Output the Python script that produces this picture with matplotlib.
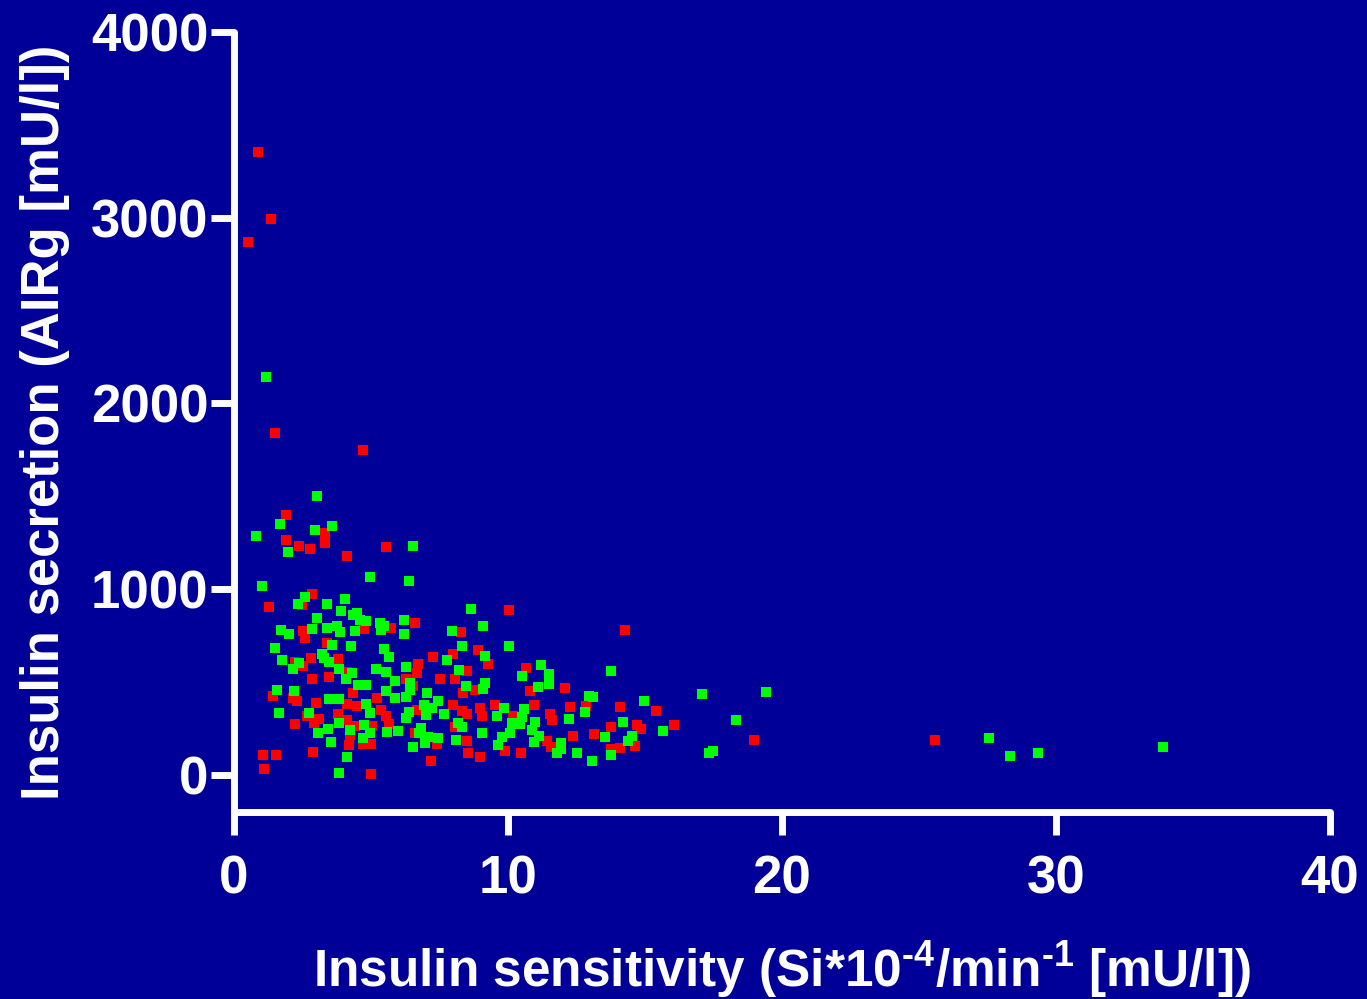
import numpy as np
import matplotlib
matplotlib.use('Agg')
import matplotlib.pyplot as plt

plt.rcParams['font.family'] = ['Liberation Sans', 'DejaVu Sans']
plt.rcParams['font.weight'] = 'bold'
plt.rcParams['mathtext.fontset'] = 'custom'
plt.rcParams['mathtext.rm'] = 'Liberation Sans:bold'
plt.rcParams['mathtext.default'] = 'rm'

# red group (Si, AIRg)
red_si = [0.89, 1.36, 0.51, 1.48, 4.71, 1.90, 1.90, 3.32, 3.31, 2.38, 2.78, 5.56, 4.14,
          2.84, 2.47, 1.27, 4.76, 2.50, 2.58, 3.38, 2.82, 3.81, 2.23, 2.53, 4.11, 2.86, 3.47,
          4.36, 1.43, 2.16, 2.31, 3.00, 4.12, 4.49, 5.22, 5.36, 5.53, 2.67, 3.11, 2.93, 3.78,
          4.12, 2.22, 4.25, 4.42, 5.04, 4.70, 5.01, 4.21, 2.89, 1.04, 1.53, 1.10, 4.99,
          6.62, 5.73, 10.03, 8.27, 8.89, 7.98, 7.28, 9.26, 6.73, 6.66, 8.49, 6.27, 6.54, 7.50,
          8.05, 8.81, 8.34, 7.99, 8.31, 8.49, 8.98, 9.04, 9.51, 10.19, 9.89, 10.47, 10.96,
          10.81, 10.65, 6.69, 5.64, 6.60, 7.39, 8.05, 8.49, 8.54, 8.99, 7.20,
          14.27, 12.08, 12.26, 12.84, 14.09, 15.40, 11.53, 11.61, 13.77, 14.69, 14.86, 16.06,
          11.42, 11.57, 12.37, 13.14, 14.64, 14.07, 13.76, 18.98, 25.58]
red_air = [3355, 2995, 2868, 1838, 1750, 1398, 1265, 1303, 1250, 1231, 1218, 1227, 1180,
           975, 915, 906, 787, 773, 739, 710, 627, 625, 605, 584, 555, 514, 528,
           442, 425, 414, 400, 387, 382, 371, 414, 351, 319, 317, 299, 279, 326,
           295, 274, 216, 261, 261, 164, 166, 158, 123, 106, 106, 31, 5,
           818, 793, 886, 771, 670, 652, 636, 598, 596, 546, 559, 514, 479, 517,
           517, 459, 442, 374, 344, 327, 360, 317, 376, 315, 128, 117, 376,
           449, 577, 351, 274, 227, 164, 256, 181, 117, 97, 74,
           782, 467, 367, 371, 365, 346, 326, 297, 259, 266, 247, 268,
           181, 148, 207, 218, 157, 144, 137, 190, 185]

# green group (Si, AIRg)
green_si = [1.17, 3.02, 1.68, 0.80, 2.97, 3.59, 1.98, 6.55,
            4.98, 1.01, 2.58, 2.32, 3.39, 4.04, 3.92, 4.33, 4.50, 4.59, 4.82, 5.31, 5.48, 5.36,
            3.04, 1.71, 2.01, 2.86, 3.41, 3.77, 3.88, 4.43, 3.59, 4.26, 1.50, 5.46, 5.65, 1.75,
            3.21, 3.30, 3.48, 2.36, 2.16, 3.84, 4.32, 4.08, 5.17, 5.56, 4.54, 4.81, 5.53, 1.57,
            2.20, 3.48, 3.83, 4.83, 4.97, 1.65, 2.75, 3.84, 3.44, 3.06, 4.25, 4.76, 4.98, 4.71,
            5.60, 3.53, 4.14, 3.84,
            6.40, 8.64, 6.20, 9.08, 7.95, 6.22, 8.31, 10.03, 7.76, 9.15, 6.27, 8.20, 5.89, 6.43,
            6.42, 8.45, 9.10, 9.15, 7.03, 5.87, 6.29, 7.44, 6.95, 7.24, 9.84, 9.58, 10.60, 10.50,
            10.15, 10.43, 10.98, 10.89, 10.09, 9.78, 9.62, 10.96, 11.14, 11.09, 10.50, 11.19,
            7.65, 7.02, 6.37, 6.27, 6.00, 6.81, 6.75, 7.08, 6.97, 6.54, 7.43, 8.10, 8.17, 8.31,
            9.04,
            13.77, 11.49, 11.49, 12.95, 13.11, 14.96, 17.09, 12.81, 12.24, 14.20, 15.66, 11.94,
            11.93, 11.77, 13.54, 14.53, 14.39, 13.77, 12.52, 13.08, 17.34, 17.49,
            18.32, 19.42, 27.55, 28.32, 29.34, 33.90]
green_air = [2142, 1504, 1349, 1285, 1319, 1339, 1200, 1231,
             1063, 1016, 955, 922, 919, 948, 881, 859, 874, 836, 827, 820, 803, 782,
             842, 782, 760, 785, 793, 804, 771, 777, 699, 692, 685, 677, 636, 620,
             649, 631, 609, 602, 569, 571, 548, 514, 568, 555, 485, 486, 452, 456,
             452, 407, 407, 382, 335, 333, 333, 277, 247, 223, 242, 266, 223, 200,
             230, 175, 97, 9,
             1045, 895, 834, 804, 777, 757, 692, 692, 620, 638, 582, 562, 506, 496,
             459, 476, 463, 497, 442, 414, 421, 395, 378, 362, 362, 319, 355, 310,
             277, 274, 285, 243, 227, 202, 161, 175, 207, 472, 530, 589,
             326, 324, 341, 306, 236, 250, 227, 202, 169, 151, 200, 189, 277, 256,
             227,
             557, 542, 490, 423, 420, 400, 436, 336, 303, 285, 238, 169,
             137, 120, 204, 207, 181, 109, 117, 74, 117, 128,
             296, 445, 196, 104, 115, 152]

bg = '#000099'
fig = plt.figure(figsize=(13.67, 9.99), dpi=100, facecolor=bg)
ax = fig.add_axes([0.1712, 0.1872, 0.8017, 0.7808], facecolor=bg)

ax.scatter(red_si, red_air, marker='s', s=52, color='#ff0000', linewidths=0, clip_on=False)
ax.scatter(green_si, green_air, marker='s', s=52, color='#00ff00', linewidths=0, clip_on=False)

ax.set_xlim(0, 40)
ax.set_ylim(-200, 4000)
ax.set_xticks([0, 10, 20, 30, 40])
ax.set_yticks([0, 1000, 2000, 3000, 4000])

for side in ['top', 'right']:
    ax.spines[side].set_visible(False)
for side in ['left', 'bottom']:
    ax.spines[side].set_color('white')
    ax.spines[side].set_linewidth(5)
    ax.spines[side].set_capstyle('round')

ax.tick_params(axis='both', direction='out', length=16.5, width=5, color='white',
               labelcolor='white', labelsize=38)
ax.tick_params(axis='y', pad=2)
ax.tick_params(axis='x', pad=14)

ax.set_xlabel(r'Insulin sensitivity (Si*10$^{\text{-}4}$/min$^{\text{-}1}$ [mU/l])',
              color='white', fontsize=37, fontweight='bold')
ax.set_ylabel('Insulin secretion (AIRg [mU/l])', color='white', fontsize=38,
              fontweight='bold')
ax.xaxis.set_label_coords(0.5, -0.163)
ax.yaxis.set_label_coords(-0.150, 0.5)

fig.savefig('out.png', dpi=100, facecolor=bg)
